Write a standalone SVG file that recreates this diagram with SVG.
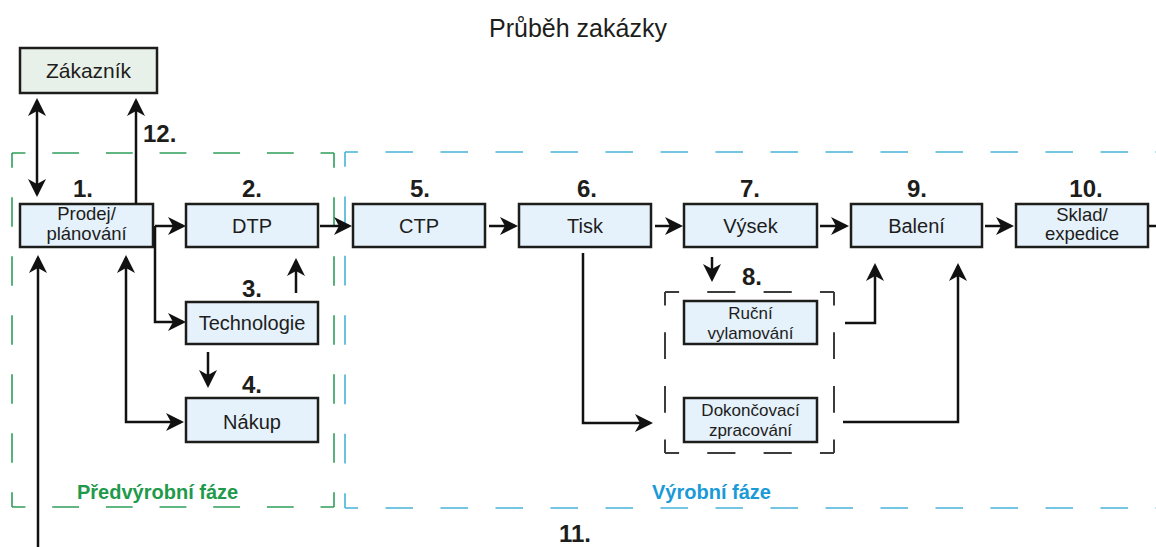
<svg xmlns="http://www.w3.org/2000/svg" width="1156" height="547" viewBox="0 0 1156 547">
<style>
.box{fill:#e5f1fb;stroke:#1d1d1b;stroke-width:2.5}
.cust{fill:#e8f1e9;stroke:#1d1d1b;stroke-width:2.5}
.lbl{font-family:"Liberation Sans",Arial,sans-serif;font-size:20px;fill:#1d1d1b;text-anchor:middle}
.lbl2{font-family:"Liberation Sans",Arial,sans-serif;font-size:18.5px;fill:#1d1d1b;text-anchor:middle}
.lbl3{font-family:"Liberation Sans",Arial,sans-serif;font-size:17px;fill:#1d1d1b;text-anchor:middle}
.num{font-family:"Liberation Sans",Arial,sans-serif;font-size:24px;font-weight:bold;fill:#1d1d1b;text-anchor:middle}
.title{font-family:"Liberation Sans",Arial,sans-serif;font-size:25px;fill:#1d1d1b;text-anchor:middle}
.phase{font-family:"Liberation Sans",Arial,sans-serif;font-size:20px;font-weight:bold}
.con{fill:none;stroke:#111;stroke-width:2.5}
.green{fill:none;stroke:#2e9e5b;stroke-width:1.6}
.blue{fill:none;stroke:#45b3d9;stroke-width:1.6}
.gray{fill:none;stroke:#3c3c3c;stroke-width:2}
</style>
<defs>
<marker id="ah" viewBox="0 0 18 18" refX="15" refY="9" markerWidth="18" markerHeight="18" markerUnits="userSpaceOnUse" orient="auto-start-reverse">
<path d="M0,0 L18,9 L0,18 L5,9 Z" fill="#111"/>
</marker>
</defs>
<rect width="1156" height="547" fill="#ffffff"/>

<text class="title" x="578" y="37">Průběh zakázky</text>

<g id="phase-pre">
<path class="green" d="M12,153 H334 M12,507 H334" stroke-dasharray="26.83 26.83" stroke-dashoffset="13.42"/>
<path class="green" d="M12,153 V507 M334,153 V507" stroke-dasharray="29.5 29.5" stroke-dashoffset="14.75"/>
<text class="phase" x="77" y="499" fill="#1f9a4b">Předvýrobní fáze</text>
</g>

<g id="phase-prod">
<path class="blue" d="M345,152 H1180 M345,508 H1180" stroke-dasharray="27.5 27.5" stroke-dashoffset="14.5"/>
<path class="blue" d="M345,152 V508" stroke-dasharray="29.67 29.67" stroke-dashoffset="14.83"/>
<text class="phase" x="652" y="499" fill="#1a9ad7">Výrobní fáze</text>
</g>

<g id="group8">
<path class="gray" d="M665,292 H834 M665,453 H834" stroke-dasharray="28.17 28.17" stroke-dashoffset="14.08"/>
<path class="gray" d="M665,292 V453 M834,292 V453" stroke-dasharray="26.83 26.83" stroke-dashoffset="13.42"/>
<text class="num" x="752" y="285">8.</text>
</g>

<g id="zakaznik">
<rect class="cust" x="20" y="48" width="137" height="45"/>
<text class="lbl" x="88.5" y="78" style="font-size:21px">Zákazník</text>
</g>

<g id="prodej">
<rect class="box" x="20" y="204" width="133" height="43"/>
<text class="lbl2" x="86.5" y="220">Prodej/</text>
<text class="lbl2" x="86.5" y="240">plánování</text>
<text class="num" x="83" y="197">1.</text>
</g>

<g id="dtp">
<rect class="box" x="186" y="204" width="132" height="43"/>
<text class="lbl" x="252" y="233">DTP</text>
<text class="num" x="252" y="197">2.</text>
</g>

<g id="technologie">
<rect class="box" x="186" y="302" width="132" height="42"/>
<text class="lbl" x="252" y="330">Technologie</text>
<text class="num" x="252" y="297">3.</text>
</g>

<g id="nakup">
<rect class="box" x="186" y="398" width="132" height="44"/>
<text class="lbl" x="252" y="429">Nákup</text>
<text class="num" x="252" y="393">4.</text>
</g>

<g id="ctp">
<rect class="box" x="353" y="204" width="132" height="43"/>
<text class="lbl" x="419" y="233">CTP</text>
<text class="num" x="420" y="197">5.</text>
</g>

<g id="tisk">
<rect class="box" x="519" y="204" width="132" height="43"/>
<text class="lbl" x="585" y="233">Tisk</text>
<text class="num" x="587" y="197">6.</text>
</g>

<g id="vysek">
<rect class="box" x="684" y="204" width="133" height="43"/>
<text class="lbl" x="750.5" y="233">Výsek</text>
<text class="num" x="750" y="197">7.</text>
</g>

<g id="rucni">
<rect class="box" x="684" y="301" width="133" height="43"/>
<text class="lbl3" x="750.5" y="319">Ruční</text>
<text class="lbl3" x="750.5" y="339">vylamování</text>
</g>

<g id="dokoncovaci">
<rect class="box" x="684" y="398" width="133" height="44"/>
<text class="lbl3" x="750.5" y="416">Dokončovací</text>
<text class="lbl3" x="750.5" y="436">zpracování</text>
</g>

<g id="baleni">
<rect class="box" x="851" y="204" width="131" height="43"/>
<text class="lbl" x="916.5" y="233">Balení</text>
<text class="num" x="917" y="197">9.</text>
</g>

<g id="sklad">
<rect class="box" x="1016" y="204" width="132" height="43"/>
<text class="lbl2" x="1082" y="221">Sklad/</text>
<text class="lbl2" x="1082" y="240">expedice</text>
<text class="num" x="1086" y="197">10.</text>
</g>

<g id="connectors">
<path class="con" d="M37,101 V194" marker-start="url(#ah)" marker-end="url(#ah)"/>
<path class="con" d="M136,204 V101" marker-end="url(#ah)"/>
<text class="num" x="143" y="142" style="text-anchor:start">12.</text>
<path class="con" d="M155,226 H183" marker-end="url(#ah)"/>
<path class="con" d="M155,226 V322 H183" marker-end="url(#ah)"/>
<path class="con" d="M320,226 H349" marker-end="url(#ah)"/>
<path class="con" d="M489,226 H515" marker-end="url(#ah)"/>
<path class="con" d="M655,226 H680" marker-end="url(#ah)"/>
<path class="con" d="M820,226 H846" marker-end="url(#ah)"/>
<path class="con" d="M985,226 H1011" marker-end="url(#ah)"/>
<path class="con" d="M1149,226 H1156"/>
<path class="con" d="M296,293 V261" marker-end="url(#ah)"/>
<path class="con" d="M208,352 V385" marker-end="url(#ah)"/>
<path class="con" d="M126,258 V422 H181" marker-start="url(#ah)" marker-end="url(#ah)"/>
<path class="con" d="M38,547 V258" marker-end="url(#ah)"/>
<text class="num" x="575" y="542">11.</text>
<path class="con" d="M583,253 V423 H650" marker-end="url(#ah)"/>
<path class="con" d="M712,257 V279" marker-end="url(#ah)"/>
<path class="con" d="M845,323 H875 V266" marker-end="url(#ah)"/>
<path class="con" d="M843,422 H958 V266" marker-end="url(#ah)"/>
</g>
</svg>
